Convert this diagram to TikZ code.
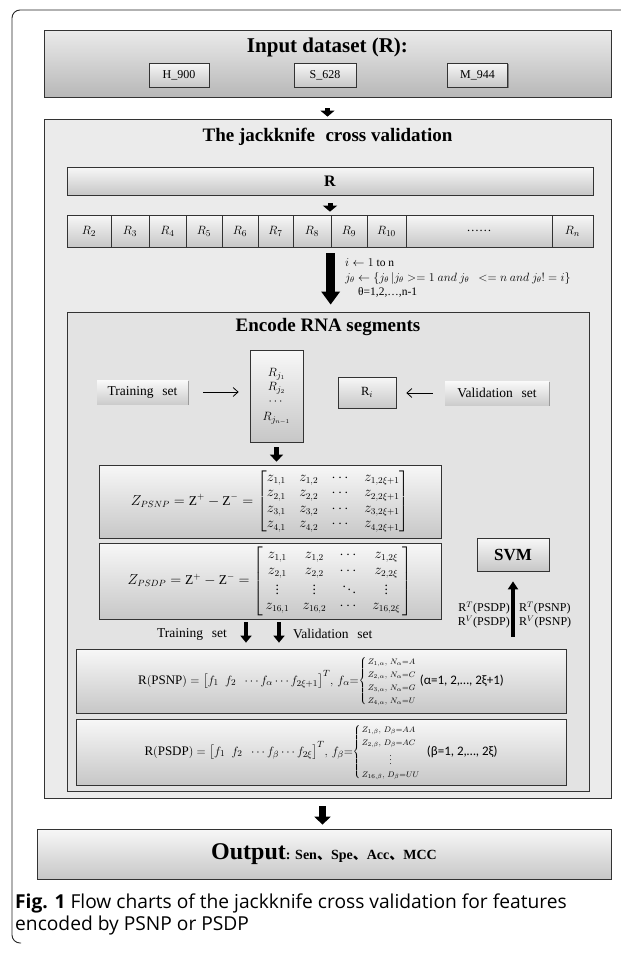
\documentclass[tikz,border=0pt]{standalone}
\usepackage{amsmath}
\usepackage{fontspec}
\setmainfont{Liberation Serif}
\newfontfamily\capfont{Open Sans}
\newfontfamily\calfont{Carlito}
\newfontfamily\cjkfont{Noto Sans CJK SC}
\usetikzlibrary{arrows.meta,shadows,calc}

\tikzset{
  frameline/.style={draw=black!85, line width=0.9pt},
  shd/.style={drop shadow={shadow xshift=1.3pt,shadow yshift=-1.3pt,opacity=0.35,fill=black}},
  panel/.style={draw=black!80, line width=0.8pt, fill=black!8, inner sep=0pt, shd},
  panelb/.style={draw=black!80, line width=0.8pt, fill=black!11, inner sep=0pt, shd},
  grad/.style={draw=black!80, line width=0.7pt, top color=black!3, bottom color=black!22, inner sep=0pt, shd},
  cell/.style={draw=black!80, line width=0.7pt, top color=black!3, bottom color=black!22, inner sep=0pt, minimum height=32pt, font=\fontsize{12.5}{14}\selectfont},
  darkgrad/.style={draw=black!80, line width=0.8pt, top color=black!8, bottom color=black!28, inner sep=0pt, shd},
  tag/.style={top color=black!2, bottom color=black!20, inner sep=0pt, shd, font=\fontsize{13.5}{16}\selectfont},
  titletxt/.style={font=\fontsize{19}{22}\selectfont\bfseries},
  smallarr/.style={line width=5pt, -{Triangle[width=14pt,length=6pt]}},
  medarr/.style={line width=7pt, -{Triangle[width=16pt,length=8pt]}},
  bigarr/.style={line width=9pt, -{Triangle[width=18pt,length=13pt]}},
  tvarr/.style={line width=4pt, -{Triangle[width=11pt,length=7pt]}},
  svmarr/.style={line width=4.5pt, -{Triangle[width=10pt,length=8pt]}},
  thinarr/.style={line width=0.8pt, -{Straight Barb[length=5pt,width=9pt]}},
  lbl/.style={font=\fontsize{11.5}{14}\selectfont, inner sep=0pt},
  capt/.style={anchor=west, inner sep=0pt, font=\capfont\fontsize{19.2}{22}\selectfont}
}

\begin{document}
\begin{tikzpicture}[x=1pt,y=-1pt]
\useasboundingbox (0,0) rectangle (621,953);
\draw[frameline, rounded corners=8pt] (21,943) -- (12,943) -- (12,10) -- (621,10);

% input
\node[darkgrad, minimum width=567pt, minimum height=67pt] (input) at (327.5,63.5) {};
\node[font=\fontsize{21}{24}\selectfont\bfseries] (intitle) at (327.5,47) {Input dataset (R):};
\node[grad, minimum width=60pt, minimum height=24pt, font=\fontsize{12}{14}\selectfont] (h900) at (179,75) {H\_900};
\node[grad, minimum width=62pt, minimum height=24pt, font=\fontsize{12}{14}\selectfont] (s628) at (325,75) {S\_628};
\node[grad, minimum width=60pt, minimum height=24pt, font=\fontsize{12}{14}\selectfont] (m944) at (477.5,75) {M\_944};

% jackknife
\node[panel, minimum width=567pt, minimum height=679pt] (jack) at (327.5,458.5) {};
\draw[smallarr, shorten <=11pt, shorten >=2pt] (input.south) -- (jack.north);
\node[titletxt] (jtitle) at (327.5,137) {The jackknife\hspace{0.3em} cross validation};
\node[grad, minimum width=526pt, minimum height=28pt, font=\fontsize{16}{18}\selectfont\bfseries] (rbar) at (330,181) {R};

\node[cell, minimum width=44pt] (r2) at (89,231) {$R_2$};
\node[cell, minimum width=38pt] (r3) at (130,231) {$R_3$};
\node[cell, minimum width=37pt] (r4) at (167.5,231) {$R_4$};
\node[cell, minimum width=36pt] (r5) at (204,231) {$R_5$};
\node[cell, minimum width=36pt] (r6) at (240,231) {$R_6$};
\node[cell, minimum width=35pt] (r7) at (275.5,231) {$R_7$};
\node[cell, minimum width=38pt] (r8) at (312,231) {$R_8$};
\node[cell, minimum width=36pt] (r9) at (349,231) {$R_9$};
\node[cell, minimum width=39pt] (r10) at (386.5,231) {$R_{10}$};
\node[cell, minimum width=146pt] (rdots) at (479,231) {……};
\node[cell, minimum width=41pt] (rn) at (572.5,231) {$R_n$};
\draw[smallarr, shorten <=8pt, shorten >=3pt] (rbar.south) -- (rbar.south |- r9.north);

% encode
\node[panelb, minimum width=522pt, minimum height=479pt] (enc) at (328,551.5) {};
\draw[bigarr, shorten <=6pt, shorten >=7pt] (r9.south west) -- (r9.south west |- enc.north);
\node[lbl, anchor=west] (l1) at (345,263) {$i\leftarrow 1\ \mathrm{to\ n}$};
\node[lbl, anchor=west] (l2) at (345,278) {$j_\theta\leftarrow\{j_\theta\,|j_\theta>=1\ and\ j_\theta\ \ <=n\ and\ j_\theta!=i\}$};
\node[lbl, anchor=west] (l3) at (358,292) {θ=1,2,…,n-1};
\node[titletxt] (etitle) at (328,327) {Encode RNA segments};

\node[tag, minimum width=91pt, minimum height=24pt] (train) at (142.5,392) {Training\hspace{0.4em} set};
\node[grad, minimum width=53pt, minimum height=92pt, font=\fontsize{12.5}{14}\selectfont, align=center] (rj) at (276.5,396) {$R_{j_1}$\\$R_{j_2}$\\$\cdots$\\[2pt]$R_{j_{n-1}}$};
\node[grad, minimum width=58pt, minimum height=31pt, font=\fontsize{12.5}{14}\selectfont] (ri) at (367,392.5) {R$_i$};
\node[tag, minimum width=104pt, minimum height=24pt] (val) at (497,393) {Validation\hspace{0.4em} set};
\draw[thinarr, shorten <=15pt, shorten >=11pt] (train.east) -- (train.east -| rj.west);
\draw[thinarr, shorten <=12pt, shorten >=10pt] (val.west) -- (val.west -| ri.east);

\node[grad, minimum width=342pt, minimum height=73pt, font=\fontsize{13.5}{15.5}\selectfont] (zpsnp) at (270,501.5)
 {$Z_{PSNP}=\mathrm{Z}^{+}-\mathrm{Z}^{-}=\left[\begin{array}{@{}l@{\quad}l@{\quad}c@{\quad}l@{}}
 z_{1,1}&z_{1,2}&\cdots&z_{1,2\xi+1}\\
 z_{2,1}&z_{2,2}&\cdots&z_{2,2\xi+1}\\
 z_{3,1}&z_{3,2}&\cdots&z_{3,2\xi+1}\\
 z_{4,1}&z_{4,2}&\cdots&z_{4,2\xi+1}\end{array}\right]$};
\draw[line width=5pt, -{Triangle[width=13pt,length=7pt]}, shorten <=5pt, shorten >=3pt] (rj.south) -- (rj.south |- zpsnp.north);

\node[grad, minimum width=342pt, minimum height=76pt, font=\fontsize{13.5}{15.5}\selectfont] (zpsdp) at (270,581)
 {$Z_{PSDP}=\mathrm{Z}^{+}-\mathrm{Z}^{-}=\left[\begin{array}{@{\,}c@{\quad}c@{\quad}c@{\quad}c@{\,}}
 z_{1,1}&z_{1,2}&\cdots&z_{1,2\xi}\\
 z_{2,1}&z_{2,2}&\cdots&z_{2,2\xi}\\
 \vdots&\vdots&\ddots&\vdots\\
 z_{16,1}&z_{16,2}&\cdots&z_{16,2\xi}\end{array}\right]$};

\node[grad, minimum width=72pt, minimum height=33pt, font=\fontsize{17}{20}\selectfont\bfseries] (svm) at (513,554.5) {SVM};

\node[grad, minimum width=490pt, minimum height=64pt, font=\fontsize{13}{15}\selectfont] (rpsnp) at (321,681)
 {$\mathrm{R(PSNP)}=\bigl[f_1\ \ f_2\ \ \cdots f_{\alpha}\cdots f_{2\xi+1}\bigr]^{T},\,f_{\alpha}{=}\vcenter{\hbox{\fontsize{8.5}{13}\selectfont$\left\{\begin{array}{@{\,}l@{}}Z_{1,\alpha},\,N_{\alpha}{=}A\\Z_{2,\alpha},\,N_{\alpha}{=}C\\Z_{3,\alpha},\,N_{\alpha}{=}G\\Z_{4,\alpha},\,N_{\alpha}{=}U\end{array}\right.$}}\ \text{\calfont (α=1, 2,…, 2ξ+1)}$};
\node[grad, minimum width=490pt, minimum height=66pt, font=\fontsize{13}{15}\selectfont] (rpsdp) at (321,752)
 {$\mathrm{R(PSDP)}=\bigl[f_1\ \ f_2\ \ \cdots f_{\beta}\cdots f_{2\xi}\bigr]^{T},\,f_{\beta}{=}\vcenter{\hbox{\fontsize{8.5}{13}\selectfont$\left\{\begin{array}{@{\,}l@{}}Z_{1,\beta},\,D_{\beta}{=}AA\\Z_{2,\beta},\,D_{\beta}{=}AC\\\hfil\vdots\\Z_{16,\beta},\,D_{\beta}{=}UU\end{array}\right.$}}\ \ \text{\calfont (β=1, 2,…, 2ξ)}$};

\draw[tvarr, shorten <=3pt, shorten >=6pt] ([xshift=-24pt]zpsdp.south) -- ([xshift=-24pt]zpsdp.south |- rpsnp.north);
\draw[tvarr, shorten <=3pt, shorten >=6pt] ([xshift=9pt]zpsdp.south) -- ([xshift=9pt]zpsdp.south |- rpsnp.north);
\node[anchor=east, inner sep=0pt, font=\fontsize{13.5}{16}\selectfont] (tslbl) at (227,634) {Training\hspace{0.4em} set};
\node[anchor=west, inner sep=0pt, font=\fontsize{13.5}{16}\selectfont] (vslbl) at (293,634) {Validation\hspace{0.4em} set};

\draw[svmarr, shorten <=12pt, shorten >=10pt] (svm.south |- rpsnp.north) -- (svm.south);
\node[anchor=east, inner sep=0pt, align=right, font=\fontsize{12}{14}\selectfont] (svml) at (510,615) {R$^{T}$(PSDP)\\R$^{V}$(PSDP)};
\node[anchor=west, inner sep=0pt, align=left, font=\fontsize{12}{14}\selectfont] (svmr) at (519,615) {R$^{T}$(PSNP)\\R$^{V}$(PSNP)};

% output
\node[grad, minimum width=574pt, minimum height=50pt] (out) at (324,854)
 {{\fontsize{24}{28}\selectfont\bfseries Output}{\fontsize{14}{16}\selectfont\bfseries: Sen{\cjkfont 、}Spe{\cjkfont 、}Acc{\cjkfont 、}MCC}};
\draw[medarr, shorten <=8pt, shorten >=4pt] ([xshift=-5pt]jack.south) -- ([xshift=-5pt]jack.south |- out.north);

% caption
\node[capt] (cap1) at (15,903) {\textbf{Fig. 1} Flow charts of the jackknife cross validation for features};
\node[capt] (cap2) at (15,926) {encoded by PSNP or PSDP};
\end{tikzpicture}
\end{document}
